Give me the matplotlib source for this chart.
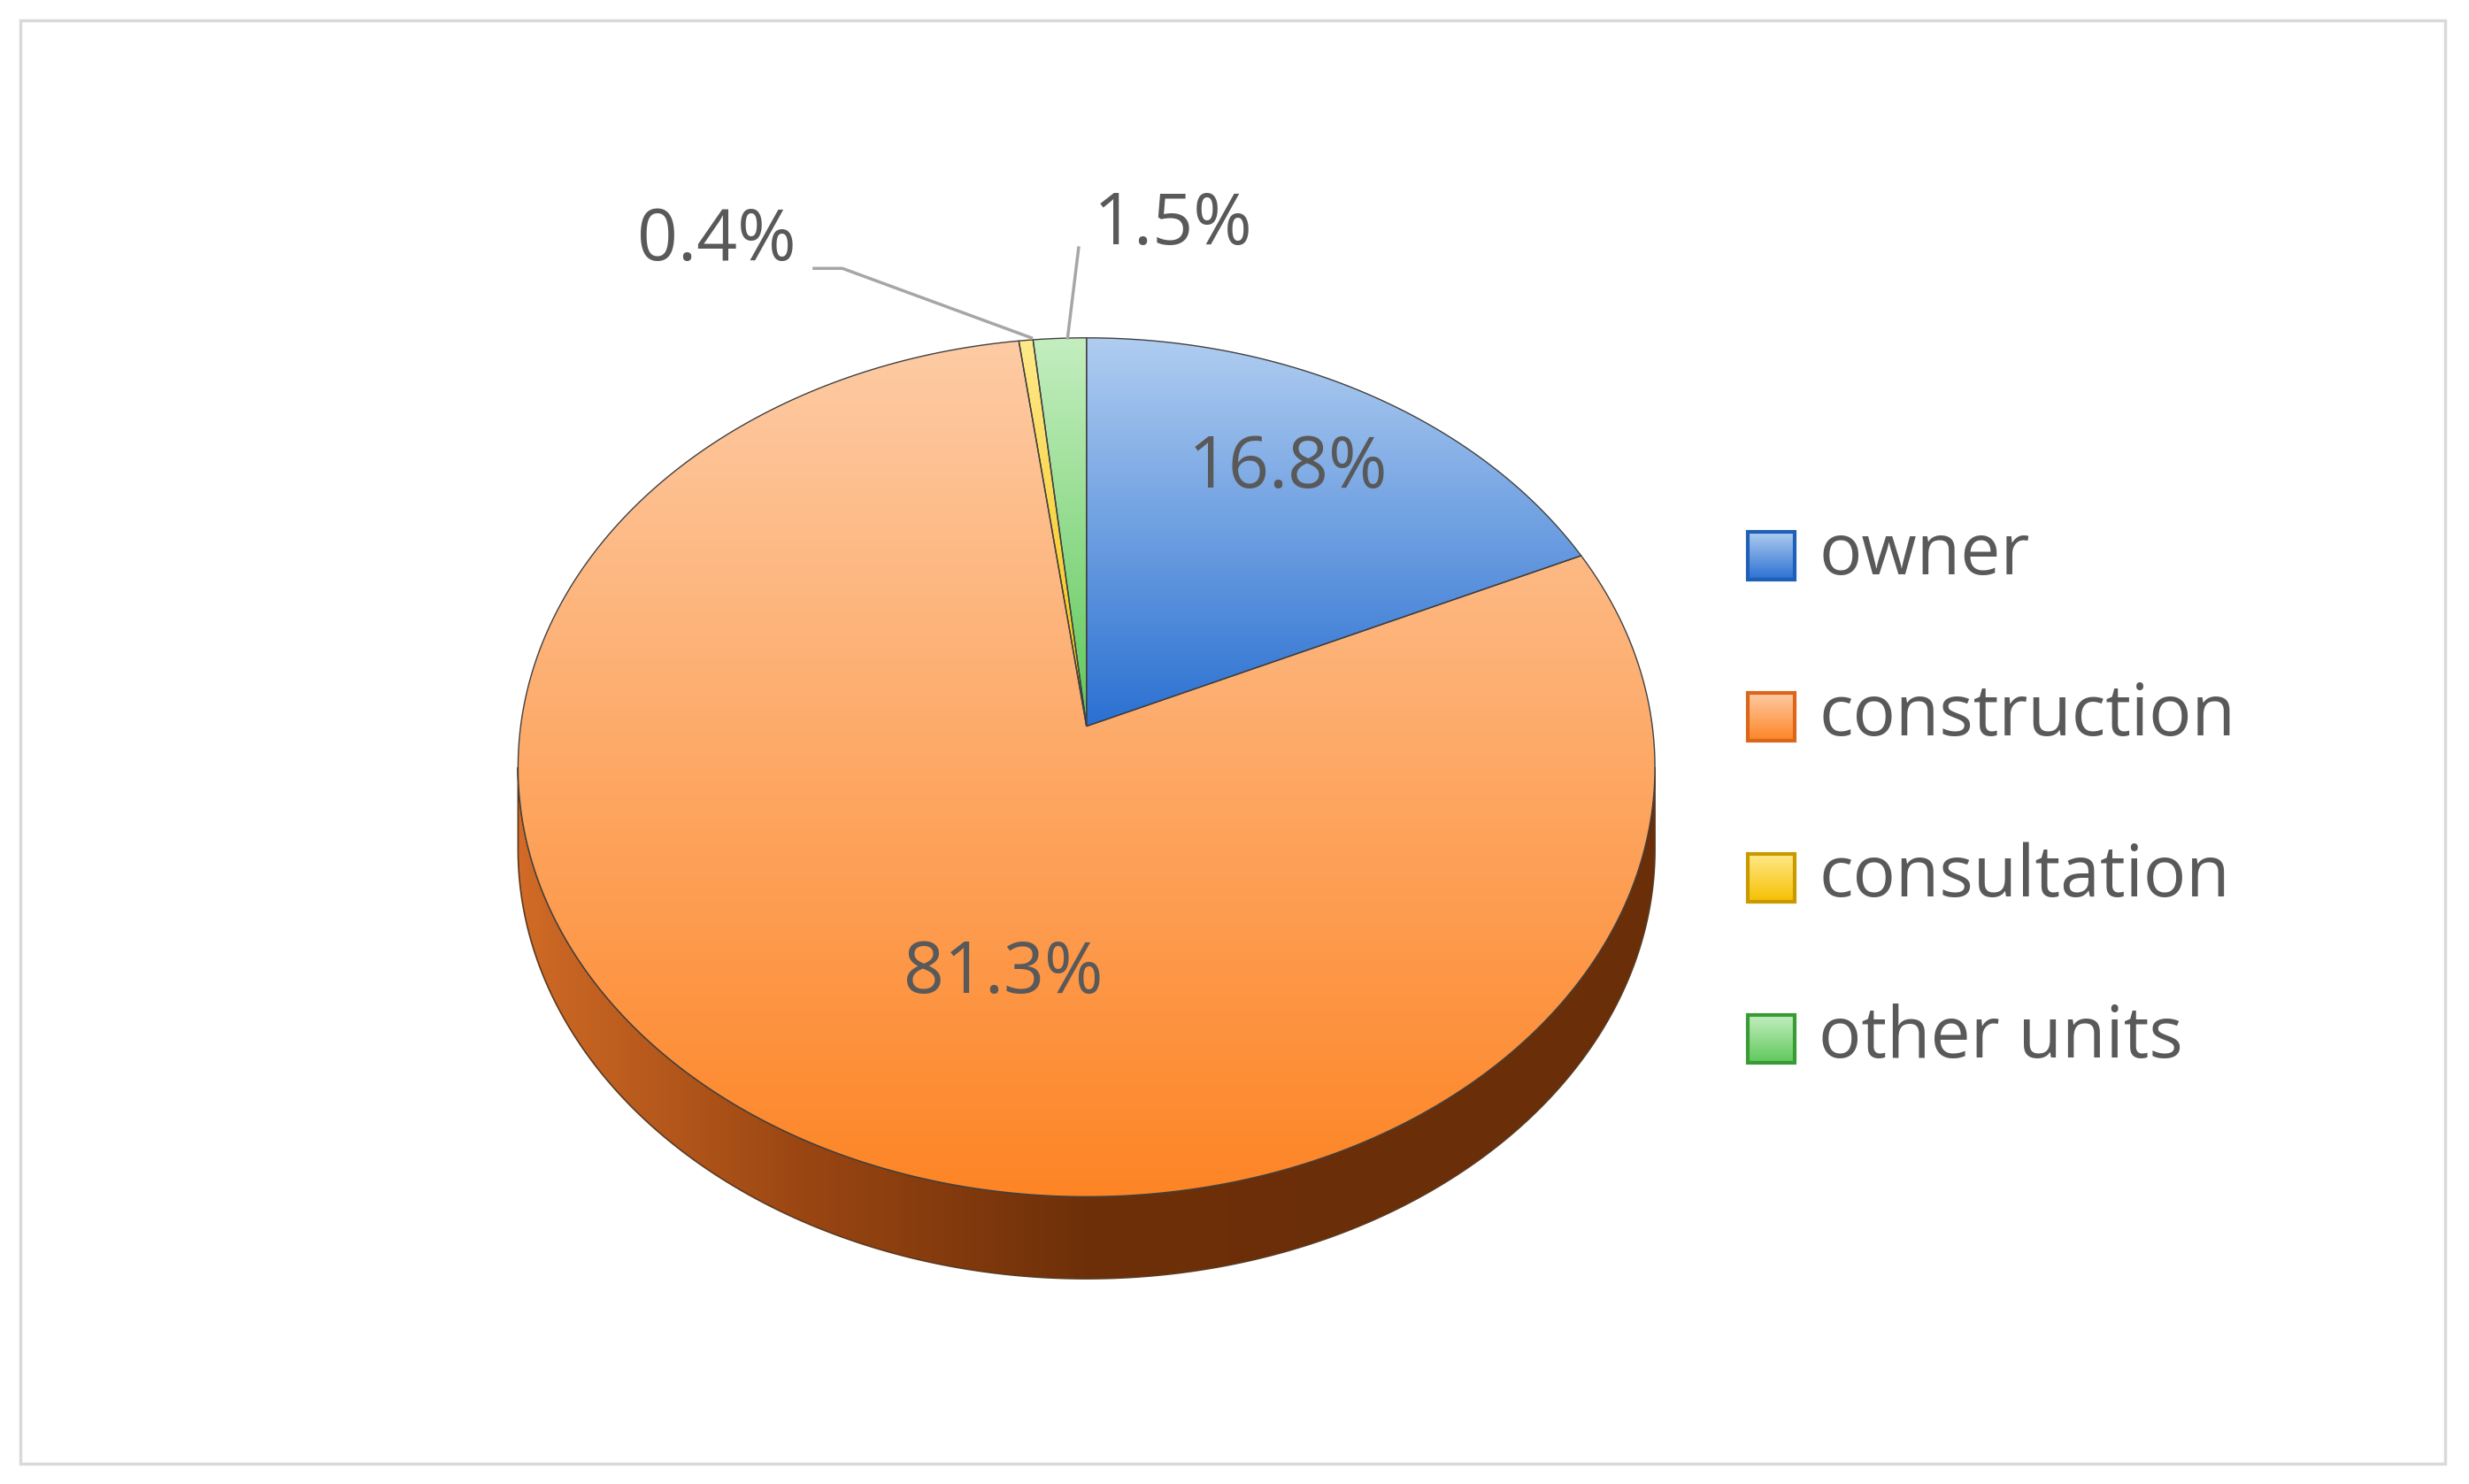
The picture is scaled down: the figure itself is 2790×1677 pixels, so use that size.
import numpy as np
import matplotlib
matplotlib.use("Agg")
import matplotlib.pyplot as plt
from matplotlib.patches import Polygon, Rectangle
from matplotlib.colors import LinearSegmentedColormap

categories = ["owner", "construction", "consultation", "other units"]
values = [16.8, 81.3, 0.4, 1.5]
labels = ["16.8%", "81.3%", "0.4%", "1.5%"]
top_cols = ["#b0cdf0", "#fecba4", "#ffe98a", "#c4eec0"]
bot_cols = ["#2a70d2", "#fd8526", "#f6c000", "#5fc85a"]
edge_cols = ["#1f5fb8", "#d9661a", "#c99a00", "#3a9a36"]

plt.rcParams['font.family'] = ['Open Sans', 'DejaVu Sans']
fig = plt.figure(figsize=(27.9, 16.77), dpi=100)
ax = fig.add_axes([0, 0, 1, 1])
ax.set_xlim(0, 1568); ax.set_ylim(940, 0); ax.axis('off')

ax.add_patch(Rectangle((13, 13), 1540, 914, fill=False, ec="#d9d9d9", lw=2.5))

cx, cy, rx, ry = 690, 486, 361, 272
ax_x, ax_y = 690, 460
depth = 52

def grad_fill(poly_pts, c1, c2, horizontal=False, cmap=None, z=2):
    poly = Polygon(poly_pts, closed=True, fc='none', ec='none')
    ax.add_patch(poly)
    xs, ys = poly_pts[:, 0], poly_pts[:, 1]
    cm = cmap or LinearSegmentedColormap.from_list("g", [c1, c2])
    g = np.linspace(0, 1, 256)
    arr = g[None, :] if horizontal else g[:, None]
    im = ax.imshow(arr, cmap=cm, extent=(xs.min(), xs.max(), ys.max(), ys.min()),
                   aspect='auto', zorder=z, interpolation='bilinear')
    im.set_clip_path(poly)
    ax.set_xlim(0, 1568); ax.set_ylim(940, 0)

# side
th = np.linspace(0, np.pi, 300)
top_e = np.c_[cx + rx*np.cos(th), cy + ry*np.sin(th)]
bot_e = top_e[::-1] + [0, depth]
side = np.vstack([top_e, bot_e])
side_cm = LinearSegmentedColormap.from_list("s", ["#6a2e08", "#6e3009", "#8a3f10", "#b8561c", "#d06a26"])
grad_fill(side[::-1], None, None, horizontal=True,
          cmap=LinearSegmentedColormap.from_list("s2", ["#d06a26", "#9a4612", "#6e3009", "#6a2e08", "#6a2e08"]), z=1)
ax.add_patch(Polygon(side, closed=True, fill=False, ec="#5a3a20", lw=1.2, zorder=1.5))

# top wedges
tot = sum(values)
start = -np.pi/2
for v, c1, c2 in zip(values, top_cols, bot_cols):
    end = start + 2*np.pi*v/tot
    t = np.linspace(start, end, max(3, int(400*v/tot)+2))
    pts = np.vstack([[ax_x, ax_y], np.c_[cx + rx*np.cos(t), cy + ry*np.sin(t)]])
    grad_fill(pts, c1, c2, z=2)
    # full top face gradient reference: compute colours over full ellipse height
    ax.add_patch(Polygon(pts, closed=True, fill=False, ec="#404040", lw=1.0, zorder=3))
    start = end

tc = "#595959"
fs = 58
ax.text(818, 297, labels[0], fontsize=fs, color=tc, ha='center', va='center', zorder=5)
ax.text(637, 617, labels[1], fontsize=fs, color=tc, ha='center', va='center', zorder=5)
ax.text(455, 153, labels[2], fontsize=fs, color=tc, ha='center', va='center', zorder=5)
ax.text(745, 143, labels[3], fontsize=fs, color=tc, ha='center', va='center', zorder=5)
ax.plot([517, 535, 655], [170, 170, 214], color="#a6a6a6", lw=2.5, zorder=4)
ax.plot([685, 678], [157, 214], color="#a6a6a6", lw=2.5, zorder=4)

for i, (name, c1, c2, ec) in enumerate(zip(categories, top_cols, bot_cols, edge_cols)):
    y = 352 + 102*i
    pts = np.array([[1110, y-15], [1140, y-15], [1140, y+15], [1110, y+15]])
    grad_fill(pts, c1, c2, z=4)
    ax.add_patch(Rectangle((1110, y-15), 30, 30, fill=False, ec=ec, lw=3, zorder=5))
    ax.text(1155, y, name, fontsize=fs, color=tc, ha='left', va='center', zorder=5)

fig.savefig("out.png", dpi=100)
